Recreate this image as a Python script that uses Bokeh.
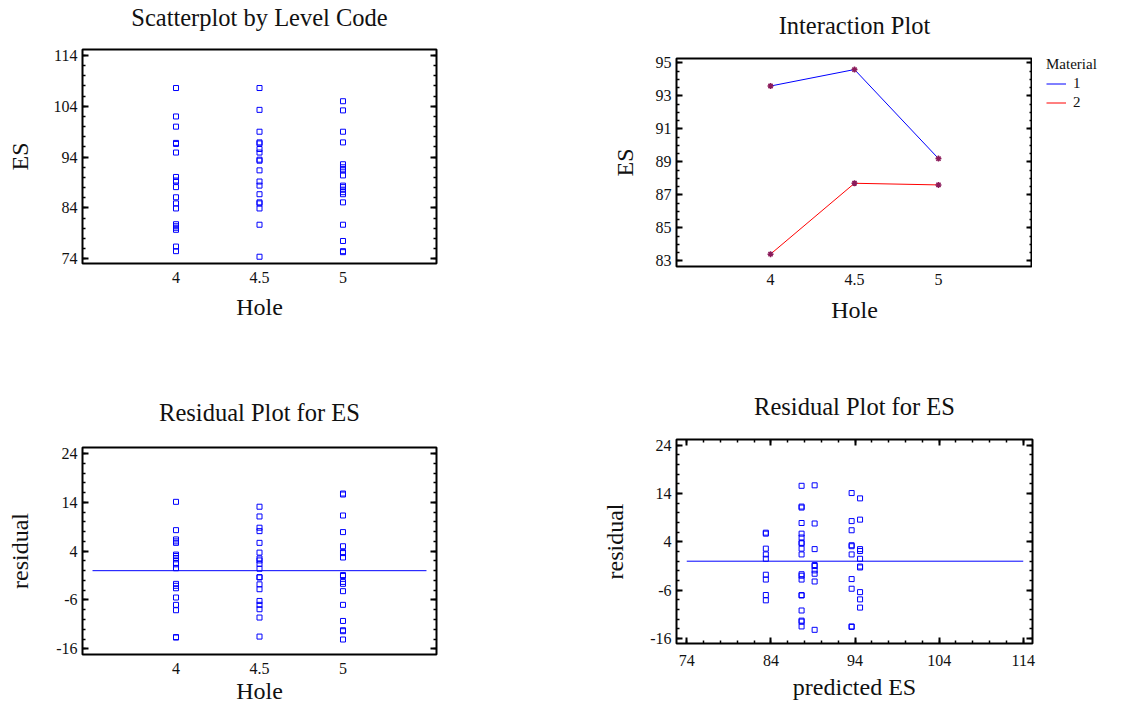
import numpy as np
from bokeh.plotting import figure
from bokeh.models import Range1d, FixedTicker, LinearAxis, Legend, LegendItem
from bokeh.layouts import column, row
from bokeh.embed import file_html
from bokeh.resources import INLINE

FONT = "Liberation Serif"
TXT = "#111111"

# ---------------- data ----------------
hole_levels = [4, 4.5, 5]
hole_tick_labels = ["4", "4.5", "5"]

# Scatterplot by Level Code: ES for each hole level
es_hole_4 = [107.6, 102.0, 100.0, 96.8, 96.6, 94.9, 90.1, 89.4, 89.2, 88.1,
             86.1, 84.9, 83.9, 80.8, 80.4, 80.1, 79.7, 76.4, 75.5]
es_hole_45 = [107.6, 103.3, 99.0, 96.9, 96.7, 95.6, 94.9, 93.5, 93.3, 91.4,
              89.2, 88.4, 86.7, 85.1, 84.9, 83.9, 80.7, 74.4]
es_hole_5 = [105.0, 103.2, 99.0, 96.9, 92.6, 92.0, 91.6, 91.4, 90.4, 88.4,
             88.1, 87.6, 87.1, 86.7, 85.1, 80.7, 77.5, 75.5, 75.3]

# Interaction plot: mean ES by hole for each material
material_labels = ["1", "2"]
material_colors = ["#0000FF", "#FF0000"]
mean_es_material_1 = [93.6, 94.6, 89.2]
mean_es_material_2 = [83.4, 87.7, 87.6]

# Residual plot vs Hole
resid_hole_4 = [14.1, 8.3, 6.4, 6.0, 5.7, 3.3, 3.0, 2.6, 1.6, 1.3, 0.5,
                -2.7, -3.1, -3.6, -5.5, -7.0, -8.1, -13.6, -13.7]
resid_hole_45 = [13.1, 11.1, 8.8, 8.1, 5.7, 3.7, 2.5, 2.1, 1.4, 0.4, -1.3,
                 -1.4, -2.8, -3.8, -6.2, -7.0, -7.9, -9.6, -13.5]
resid_hole_5 = [15.8, 15.6, 11.3, 7.9, 5.0, 3.8, 3.6, 2.7, -0.9, -1.1, -2.3,
                -2.7, -4.2, -7.0, -10.3, -12.2, -12.4, -14.1]

# Residual plot vs predicted ES
predicted_levels = [83.4, 87.65, 89.2, 93.6, 94.6]
resid_pred_834 = [5.9, 5.7, 2.6, 1.4, 0.5, -2.8, -3.8, -7.0, -8.1]
resid_pred_8765 = [15.6, 11.3, 11.1, 7.9, 5.7, 4.9, 3.8, 3.7, 2.6, 1.4,
                   -2.7, -3.0, -3.8, -7.0, -7.1, -10.2, -12.3, -12.5, -13.5]
resid_pred_892 = [15.7, 7.8, 2.5, -0.8, -1.0, -1.9, -2.6, -4.2, -14.2]
resid_pred_936 = [14.1, 8.3, 6.4, 3.3, 3.1, 1.4, -3.7, -5.7, -13.5, -13.6]
resid_pred_946 = [13.0, 8.6, 2.5, 2.1, 0.5, -1.1, -1.3, -6.4, -7.9, -9.6]

es_ticks = [74, 84, 94, 104, 114]
es_tick_labels = ["74", "84", "94", "104", "114"]
mean_ticks = [83, 85, 87, 89, 91, 93, 95]
mean_tick_labels = ["83", "85", "87", "89", "91", "93", "95"]
resid_ticks = [-16, -6, 4, 14, 24]
resid_tick_labels = ["-16", "-6", "4", "14", "24"]


# ---------------- helpers ----------------
def make_fig(title, xr, yr, borders, width=562):
    left, right, top, bottom = borders
    p = figure(width=width, height=354, output_backend="svg", toolbar_location=None,
               x_range=Range1d(*xr), y_range=Range1d(*yr),
               min_border_left=left, min_border_right=right,
               min_border_top=top, min_border_bottom=bottom,
               x_axis_type=None, y_axis_type=None)
    p.frame_align = False
    p.title.text = title
    p.title.text_font = FONT
    p.title.text_font_size = "24.5px"
    p.title.text_font_style = "normal"
    p.title.text_color = TXT
    p.title.align = "center"
    p.title.standoff = 0
    p.grid.visible = False
    p.outline_line_color = "black"
    p.outline_line_width = 2
    p.outline_line_alpha = 1
    p.background_fill_color = "white"
    p.border_fill_color = "white"
    return p


def tick_style(ax, labelled=True):
    ax.axis_line_color = None
    ax.major_tick_in = 6
    ax.major_tick_out = 0
    ax.minor_tick_in = 3
    ax.minor_tick_out = 0
    ax.major_tick_line_color = "black"
    ax.minor_tick_line_color = "black"
    ax.major_tick_line_width = 2
    ax.minor_tick_line_width = 1.5
    ax.major_label_text_font = FONT
    ax.major_label_text_font_size = "16px" if labelled else "1px"
    ax.major_label_text_color = TXT
    ax.axis_label_text_font = FONT
    ax.axis_label_text_font_size = "24px"
    ax.axis_label_text_font_style = "normal"
    ax.axis_label_text_color = TXT


def add_y_axes(p, ticks, labels, step, ylabel, label_standoff):
    minor = list(np.arange(ticks[0] - step * 5, ticks[-1] + step * 5 + 1e-9, step))
    ly = LinearAxis(ticker=FixedTicker(ticks=ticks, minor_ticks=minor), axis_label=ylabel)
    tick_style(ly)
    ly.major_label_overrides = dict(zip(ticks, labels))
    ly.major_label_standoff = 5
    ly.axis_label_standoff = label_standoff
    p.add_layout(ly, "left")
    ry = LinearAxis(ticker=FixedTicker(ticks=ticks, minor_ticks=minor))
    tick_style(ry, labelled=False)
    ry.major_label_overrides = {t: "" for t in ticks}
    ry.major_label_standoff = 0
    p.add_layout(ry, "right")


def add_title_spacer(p, ticks, gap):
    # invisible axis between the frame and the title, keeps the title up
    sp = LinearAxis(ticker=FixedTicker(ticks=ticks))
    tick_style(sp, labelled=False)
    sp.major_tick_in = 0
    sp.minor_tick_in = 0
    sp.major_tick_out = gap
    sp.major_tick_line_color = None
    sp.minor_tick_line_color = None
    sp.major_label_overrides = {t: "" for t in ticks}
    sp.major_label_standoff = 0
    p.add_layout(sp, "above")


def add_hole_x_axis(p, xlabel, label_standoff, axis_standoff):
    ax = LinearAxis(ticker=FixedTicker(ticks=hole_levels), axis_label=xlabel)
    tick_style(ax)
    ax.major_tick_line_color = None
    ax.minor_tick_line_color = None
    ax.major_label_overrides = dict(zip(hole_levels, hole_tick_labels))
    ax.major_label_standoff = label_standoff
    ax.axis_label_standoff = axis_standoff
    p.add_layout(ax, "below")
    return ax


SQ = dict(marker="square", size=5, fill_color=None, line_color="#0000FF", line_width=1)

# ---------------- panel 1 ----------------
p1 = make_fig("Scatterplot by Level Code", (3.44, 5.56), (73.07, 115.18),
              (82, 126, 49, 91))
for lvl, vals in zip(hole_levels, [es_hole_4, es_hole_45, es_hole_5]):
    p1.scatter([lvl] * len(vals), vals, **SQ)
add_y_axes(p1, es_ticks, es_tick_labels, 2, "ES", 18)
add_hole_x_axis(p1, "Hole", 8, 8)
add_title_spacer(p1, hole_levels, 19)

# ---------------- panel 2 (+ legend strip) ----------------
LEG_W = 92
p2 = make_fig("Interaction Plot", (3.44, 5.56), (82.65, 95.27),
              (114, 0, 58, 88), width=562 - LEG_W)
p2.line(hole_levels, mean_es_material_1, line_color=material_colors[0], line_width=1)
p2.line(hole_levels, mean_es_material_2, line_color=material_colors[1], line_width=1)
p2.scatter(hole_levels, mean_es_material_1, marker="asterisk", size=6,
           line_color="#8B1A5A", line_width=1.5)
p2.scatter(hole_levels, mean_es_material_2, marker="asterisk", size=6,
           line_color="#8B1A5A", line_width=1.5)
add_y_axes(p2, mean_ticks, mean_tick_labels, 0.5, "ES", 15)
add_hole_x_axis(p2, "Hole", 7, 9)
add_title_spacer(p2, hole_levels, 20)

# legend strip to the right of the interaction plot; its key lines reuse the
# series data but lie outside this strip's (0..1) ranges, so only the key shows
pl = figure(width=LEG_W, height=354, output_backend="svg", toolbar_location=None,
            x_range=Range1d(0, 1), y_range=Range1d(0, 1),
            min_border_left=0, min_border_right=0, min_border_top=0, min_border_bottom=0,
            x_axis_type=None, y_axis_type=None)
pl.frame_align = False
pl.grid.visible = False
pl.outline_line_color = None
pl.background_fill_color = "white"
pl.border_fill_color = "white"
key_renderers = [pl.line(hole_levels, ys, line_color=c, line_width=1)
                 for ys, c in zip([mean_es_material_1, mean_es_material_2], material_colors)]
legend = Legend(items=[LegendItem(label=lab, renderers=[r])
                       for lab, r in zip(material_labels, key_renderers)],
                title="Material", location=(14, 242),
                border_line_color=None, background_fill_alpha=0,
                label_text_font=FONT, label_text_font_size="15px", label_text_color=TXT,
                title_text_font=FONT, title_text_font_size="15px",
                title_text_font_style="normal", title_text_color=TXT,
                glyph_width=20, glyph_height=19, label_height=19,
                padding=0, spacing=0, margin=0, label_standoff=7, title_standoff=1)
pl.add_layout(legend, "center")

# ---------------- panel 3 ----------------
p3 = make_fig("Residual Plot for ES", (3.44, 5.56), (-17.17, 25.23),
              (82, 126, 93, 54))
p3.line([hole_levels[0] - 0.5, hole_levels[-1] + 0.5], [0, 0],
        line_color="#0000FF", line_width=1)
for lvl, vals in zip(hole_levels, [resid_hole_4, resid_hole_45, resid_hole_5]):
    p3.scatter([lvl] * len(vals), vals, **SQ)
add_y_axes(p3, resid_ticks, resid_tick_labels, 2, "residual", 20)
add_hole_x_axis(p3, "Hole", 8, 1)
add_title_spacer(p3, hole_levels, 22)

# ---------------- panel 4 ----------------
p4 = make_fig("Residual Plot for ES", (72.78, 115.1), (-17.03, 25.18),
              (114, 92, 85, 65))
p4.line([es_ticks[0], es_ticks[-1]], [0, 0], line_color="#0000FF", line_width=1)
for lvl, vals in zip(predicted_levels, [resid_pred_834, resid_pred_8765, resid_pred_892,
                                        resid_pred_936, resid_pred_946]):
    p4.scatter([lvl] * len(vals), vals, **SQ)
add_y_axes(p4, resid_ticks, resid_tick_labels, 2, "residual", 19)
xminor = list(np.arange(es_ticks[0] - 10, es_ticks[-1] + 10 + 1e-9, 2))
bx = LinearAxis(ticker=FixedTicker(ticks=es_ticks, minor_ticks=xminor), axis_label="predicted ES")
tick_style(bx)
bx.major_label_overrides = dict(zip(es_ticks, es_tick_labels))
bx.major_label_standoff = 11
bx.axis_label_standoff = 5
p4.add_layout(bx, "below")
tx = LinearAxis(ticker=FixedTicker(ticks=es_ticks, minor_ticks=xminor))
tick_style(tx, labelled=False)
tx.major_label_overrides = {t: "" for t in es_ticks}
tx.major_label_standoff = 0
p4.add_layout(tx, "above")
add_title_spacer(p4, es_ticks, 20)

layout = column(row(p1, p2, pl), row(p3, p4))
open("out.html", "w").write(file_html(layout, INLINE))
